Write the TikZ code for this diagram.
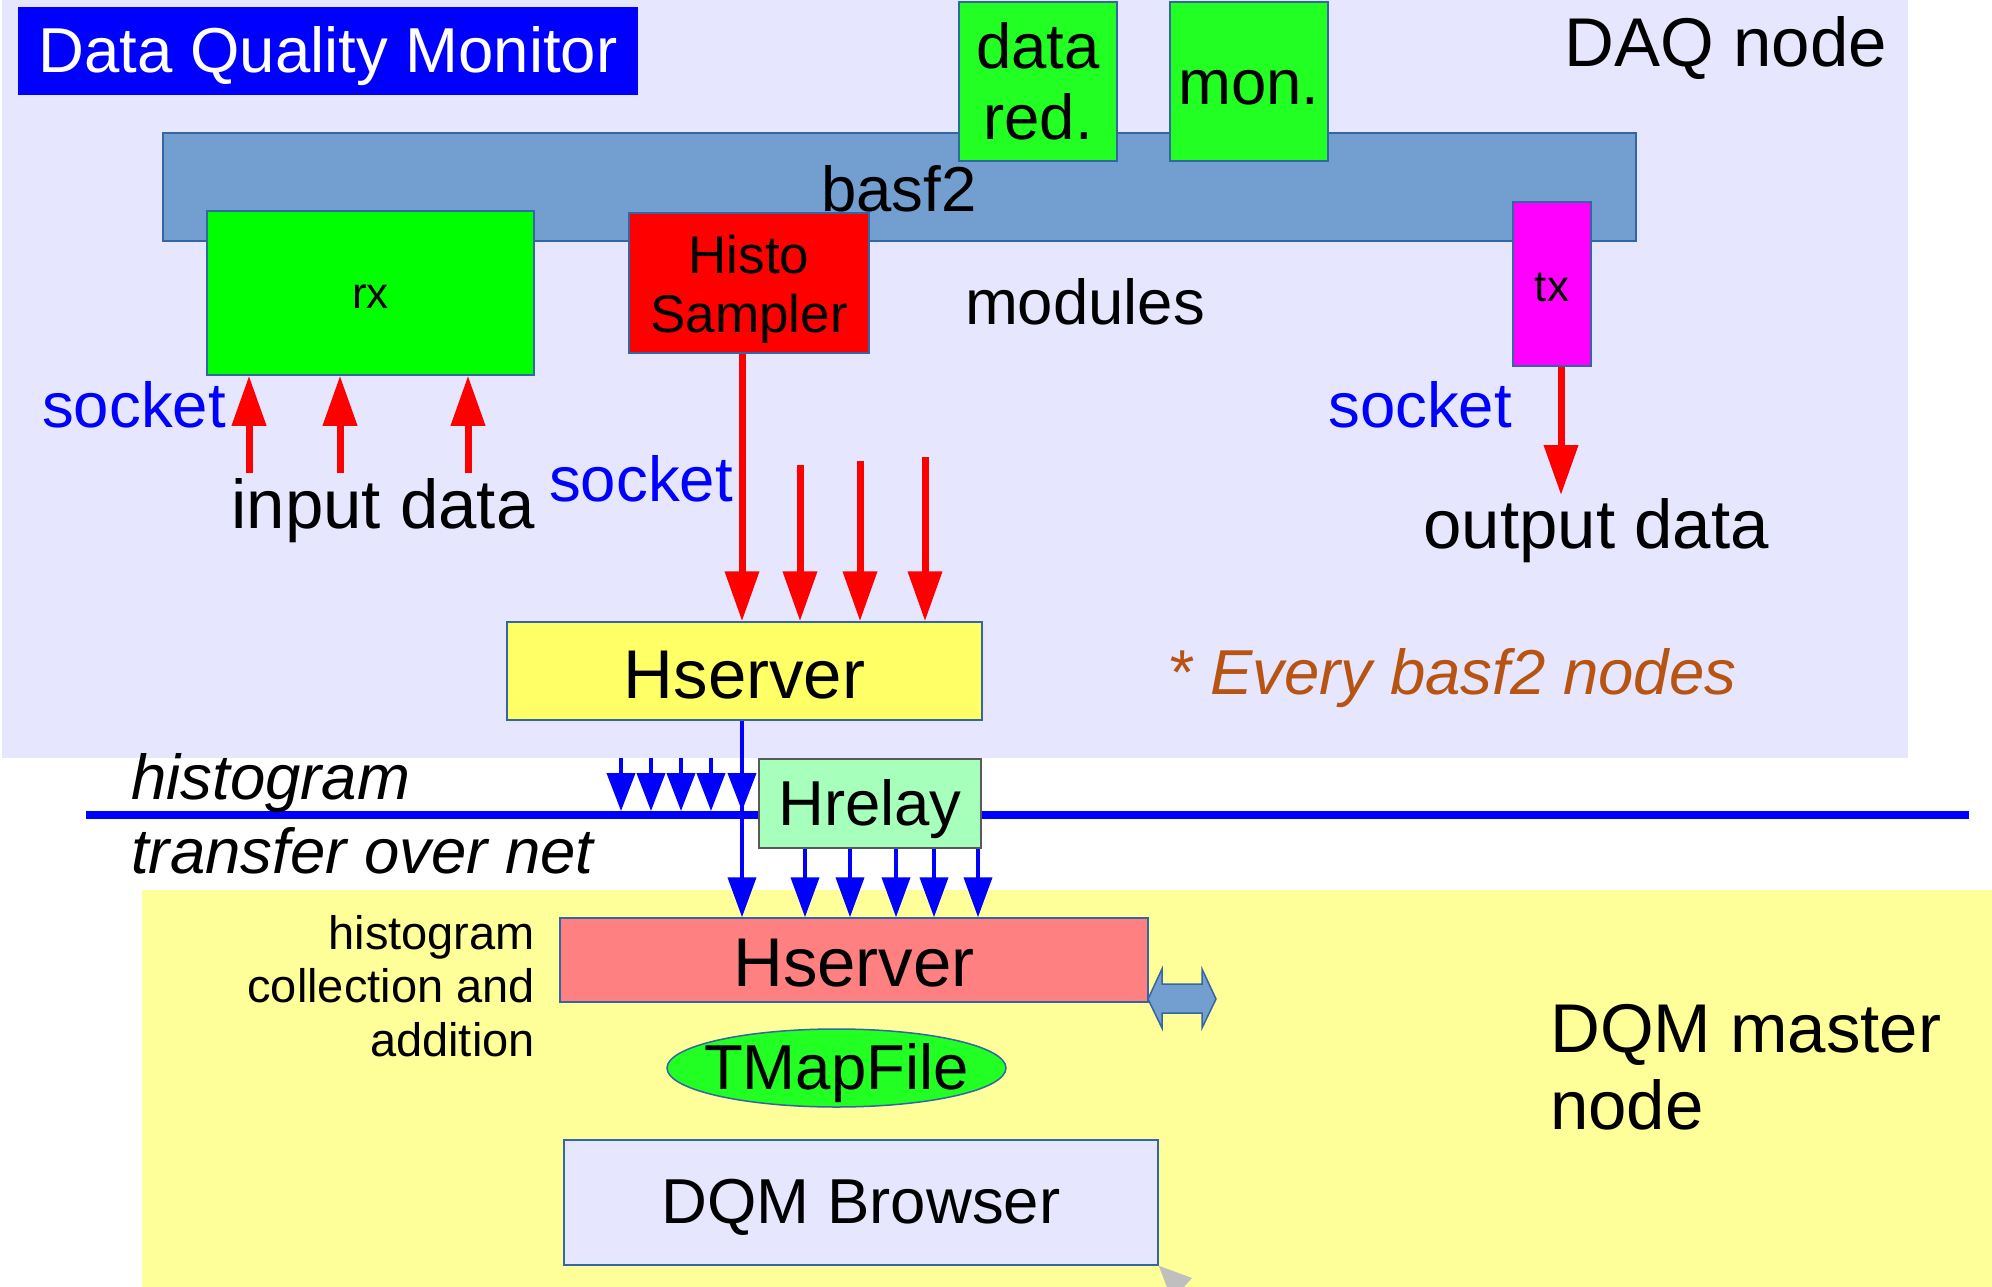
\documentclass[tikz,border=0pt]{standalone}
\usepackage{fontspec}
\setmainfont{Liberation Sans}
\usetikzlibrary{arrows.meta,shapes.geometric}

\definecolor{lav}{HTML}{E6E6FF}
\definecolor{pale}{HTML}{FFFF99}
\definecolor{barblue}{HTML}{729FCF}
\definecolor{edgeblue}{HTML}{3465A4}
\definecolor{grn}{HTML}{22FF22}
\definecolor{puregrn}{HTML}{00FF00}
\definecolor{yel}{HTML}{FFFF66}
\definecolor{salmon}{HTML}{FF8080}
\definecolor{mint}{HTML}{A6FFBA}
\definecolor{rust}{HTML}{B85412}
\definecolor{ink}{HTML}{0000FF}
\definecolor{fuchsia}{HTML}{FF00FF}
\definecolor{pureRed}{HTML}{FF0000}

\newcommand\szA{\fontsize{69}{77}\selectfont}
\newcommand\szB{\fontsize{63.5}{71}\selectfont}
\newcommand\szC{\fontsize{53}{59}\selectfont}
\newcommand\szD{\fontsize{47}{53.5}\selectfont}
\newcommand\szE{\fontsize{44}{50}\selectfont}

\begin{document}
\begin{tikzpicture}[x=1pt,y=-1pt,
  box/.style={draw=edgeblue, line width=1.5pt, inner sep=0pt, anchor=center, align=center},
  label/.style={inner sep=0pt, anchor=center, align=center},
  redarr/.style={draw=pureRed, line width=7pt, -{Triangle[length=50pt,width=33pt]}},
  bluearr/.style={draw=ink, line width=4pt, -{Triangle[length=38pt,width=28pt]}},
  bluearrl/.style={draw=ink, line width=4pt, -{Triangle[length=40pt,width=28pt]}}]

\useasboundingbox (0,0) rectangle (1992,1287);

% node areas
\fill[lav] (2,0) rectangle (1908,758);
\fill[pale] (142,890) rectangle (1992,1287);

% network line
\coordinate (netL) at (86,815);
\coordinate (netR) at (1969,815);
\draw[ink, line width=8pt] (netL) -- (netR);

% DAQ node
\node[label, fill=ink, minimum width=620pt, minimum height=88pt] (title) at (328,51) {};
\node[label, text=white, font=\szB] (titletext) at (328,56) {Data Quality Monitor};
\node[box, fill=barblue, minimum width=1473pt, minimum height=108pt] (bar) at (899.5,187) {};
\node[label, font=\szB] (basf) at (899,189) {basf2};
\node[box, fill=grn, minimum width=158pt, minimum height=159pt, font=\szB] (red) at (1038,81.5) {data\\ red.};
\node[box, fill=grn, minimum width=158pt, minimum height=159pt] (mon) at (1249,81.5) {};
\node[label, font=\szB] (montext) at (1249,88) {mon.};
\node[label, font=\szA] (daq) at (1726,48) {DAQ node};
\node[box, fill=puregrn, minimum width=327pt, minimum height=164pt] (rx) at (370.5,293) {};
\node[label, font=\szE] (rxtext) at (370.5,297) {rx};
\node[box, fill=pureRed, minimum width=240pt, minimum height=140pt] (hs) at (749,283) {};
\node[label, font=\szC] (hstext) at (749,289) {Histo\\ Sampler};
\node[label, font=\szB] (mods) at (1085,302) {modules};
\node[box, fill=fuchsia, minimum width=78pt, minimum height=164pt] (tx) at (1552,284) {};
\node[label, font=\szE] (txtext) at (1552,287) {tx};

\node[label, text=ink, font=\szB] (sockL) at (134,405) {socket};
\node[label, text=ink, font=\szB] (sockM) at (641,479) {socket};
\node[label, text=ink, font=\szB] (sockR) at (1420,405) {socket};
\node[label, font=\szA] (inp) at (383,511) {input data};
\node[label, font=\szA] (outp) at (1596,531) {output data};

\node[box, fill=yel, minimum width=475pt, minimum height=98pt] (hs1) at (744.5,671) {};
\node[label, font=\szA] (hs1text) at (744.5,675) {Hserver};
\node[label, text=rust, font=\szB\itshape] (every) at (1452,678) {* Every basf2 nodes};

% network labels
\node[label, anchor=west, font=\szB\itshape] (nl1) at (131,783) {histogram};
\node[label, anchor=west, font=\szB\itshape] (nl2) at (131,851) {transfer over net};
\node[box, draw=black!65, fill=mint, minimum width=222pt, minimum height=89pt] (hr) at (870,803.5) {};
\node[label, font=\szB] (hrtext) at (870,809) {Hrelay};

% DQM master node
\node[box, fill=salmon, minimum width=588pt, minimum height=84pt] (hs2) at (854,960) {};
\node[label, font=\szA] (hs2text) at (854,963) {Hserver};
\node[label, anchor=east, align=right, font=\szD] (coll) at (535,986) {histogram\\ collection and\\ addition};
\node[box, ellipse, fill=grn, minimum width=339pt, minimum height=78pt] (tmap) at (836.5,1068) {};
\node[label, font=\szB] (tmaptext) at (836.5,1073) {TMapFile};
\node[box, fill=lav, minimum width=594pt, minimum height=125pt] (brw) at (861,1202.5) {};
\node[label, font=\szB] (brwtext) at (861,1207) {DQM Browser};
\node[label, anchor=west, align=left, font=\szA] (master) at (1550,1067) {DQM master\\ node};

% two-way link beside the master Hserver
\filldraw[fill=barblue, draw=edgeblue, line width=1.5pt]
  (1148,999) -- (1162,969) -- (1162,984) -- (1202,984) -- (1202,969) -- (1216,999)
  -- (1202,1028) -- (1202,1013) -- (1162,1013) -- (1162,1028) -- cycle;

% pointer at the browser corner
\begin{scope}
  \clip (0,0) rectangle (1992,1287);
  \fill[black!25] (brw.south east) -- (1192,1278) -- (1172,1300) -- cycle;
\end{scope}

% input data into rx
\foreach \x [count=\i] in {249,340,468} {
  \coordinate (in\i) at (\x,473);
  \draw[redarr] (in\i) -- (in\i |- rx.south);
}

% histograms into the local Hserver
\coordinate (r0) at (742,353);
\draw[redarr] (hs.south -| r0) -- (r0 |- hs1.north);
\foreach \x/\y [count=\i] in {800/465,860/461,925/457} {
  \coordinate (r\i) at (\x,\y);
  \draw[redarr] (r\i) -- (r\i |- hs1.north);
}

% output data from tx
\coordinate (out) at (1561,495);
\draw[redarr] (tx.south -| out) -- (out);

% histogram transfer over the network
\coordinate (vtip) at (742,811);
\draw[bluearrl] (hs1.south -| vtip) -- (vtip |- hs2.north);
\draw[bluearr] (hs1.south -| vtip) -- (vtip);
\foreach \x [count=\i] in {621,651,681,711} {
  \coordinate (nt\i) at (\x,811);
  \coordinate (ns\i) at (\x,758);
  \draw[bluearr] (ns\i) -- (nt\i);
}
\foreach \x [count=\i] in {805,850,896,934,978} {
  \coordinate (hx\i) at (\x,0);
  \draw[bluearrl] (hr.south -| hx\i) -- (hx\i |- hs2.north);
}
\end{tikzpicture}
\end{document}
